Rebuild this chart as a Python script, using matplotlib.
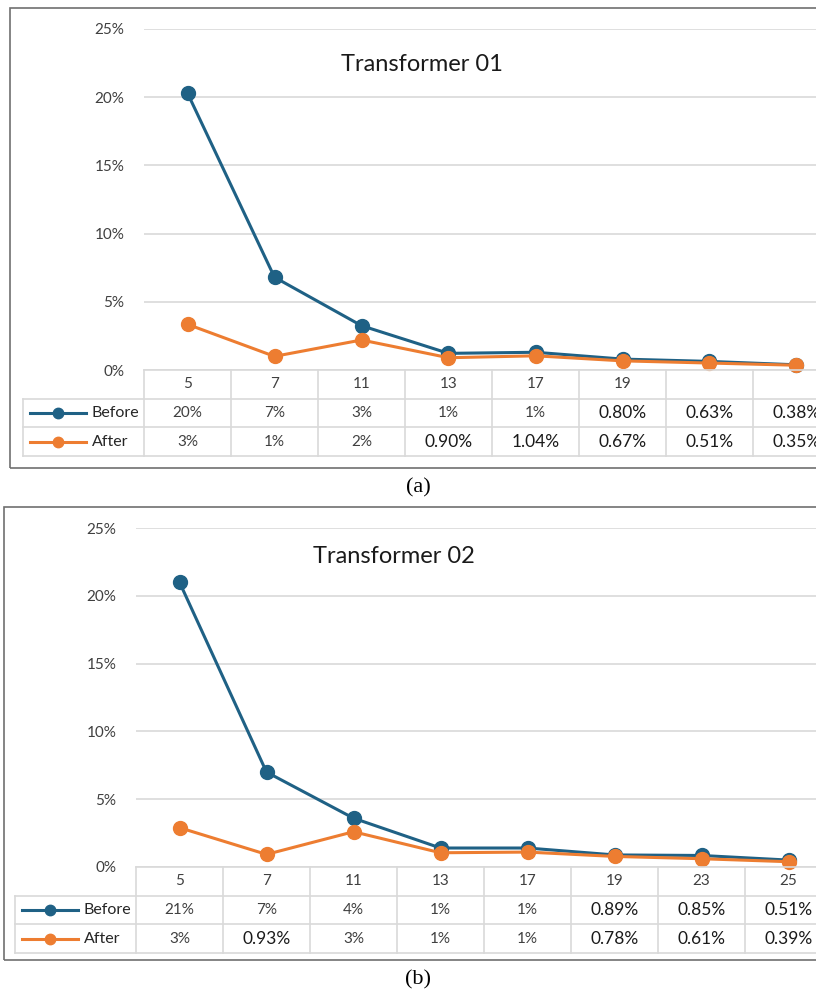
import matplotlib
matplotlib.use('Agg')
import matplotlib.pyplot as plt
from matplotlib.patches import Rectangle
from matplotlib.lines import Line2D

plt.rcParams['font.family'] = ['Lato', 'DejaVu Sans']

# harmonic orders shown in the header row (panel a leaves the last two empty)
orders_a = ['5', '7', '11', '13', '17', '19', '', '']
orders_b = ['5', '7', '11', '13', '17', '19', '23', '25']

# values in percent
before_a = [20.3, 6.8, 3.25, 1.22, 1.3, 0.80, 0.63, 0.38]
after_a = [3.35, 1.0, 2.2, 0.90, 1.04, 0.67, 0.51, 0.35]
before_b = [21.0, 7.0, 3.6, 1.4, 1.4, 0.89, 0.85, 0.51]
after_b = [2.9, 0.93, 2.6, 1.05, 1.1, 0.78, 0.61, 0.39]

# table text as printed
before_a_lbl = ['20%', '7%', '3%', '1%', '1%', '0.80%', '0.63%', '0.38%']
after_a_lbl = ['3%', '1%', '2%', '0.90%', '1.04%', '0.67%', '0.51%', '0.35%']
before_b_lbl = ['21%', '7%', '4%', '1%', '1%', '0.89%', '0.85%', '0.51%']
after_b_lbl = ['3%', '0.93%', '3%', '1%', '1%', '0.78%', '0.61%', '0.39%']

yticks = [0, 5, 10, 15, 20, 25]

BLUE = '#1f6185'
ORANGE = '#ed7d31'
GRID = '#d9d9d9'
W, H = 816, 991

fig = plt.figure(figsize=(W / 100, H / 100), dpi=100)


def px(x0, y0, x1, y1):
    # pixel box (top-left origin) -> figure fraction rect
    return [x0 / W, 1 - y1 / H, (x1 - x0) / W, (y1 - y0) / H]


def panel(title, title_xy, orders, before, after, blbl, albl, box, plot_x0, leg_x0, y25, y0, row_h, col_w):
    bx0, by0, bx1, by1 = box
    fig.patches.append(Rectangle((bx0 / W, 1 - by1 / H), (bx1 - bx0) / W, (by1 - by0) / H,
                                 transform=fig.transFigure, fill=False,
                                 edgecolor='#707070', lw=1.2))
    n = len(orders)
    x_right = plot_x0 + n * col_w
    ax = fig.add_axes(px(plot_x0, y25, x_right, y0))
    xs = list(range(n))
    ax.set_xlim(-0.5, n - 0.5)
    ax.set_ylim(0, 25)
    for v in yticks:
        ax.axhline(v, color=GRID, lw=1.2, zorder=0)
    ax.plot(xs, before, color=BLUE, lw=2.2, marker='o', ms=10, zorder=3, clip_on=False)
    ax.plot(xs, after, color=ORANGE, lw=2.2, marker='o', ms=10, zorder=3, clip_on=False)
    ax.set_yticks(yticks)
    ax.set_yticklabels([f'{v}%' for v in yticks], color='#404040', fontsize=11)
    ax.tick_params(axis='y', length=0, pad=14)
    ax.set_xticks([])
    for s in ax.spines.values():
        s.set_visible(False)
    ax.patch.set_alpha(0)
    ax.text(title_xy[0], title_xy[1], title, transform=ax.transAxes, ha='center', va='center',
            fontsize=17, color='#1a1a1a')

    # data table under the plot
    left_units = (plot_x0 - leg_x0) / col_w
    tx = fig.add_axes(px(leg_x0, y0, x_right, y0 + 3 * row_h))
    tx.set_xlim(-0.5 - left_units, n - 0.5)
    tx.set_ylim(3, 0)
    tx.axis('off')
    lk = dict(color=GRID, lw=1.2, clip_on=False)
    tx.plot([-0.5, n - 0.5], [0, 0], **lk)
    for r in (1, 2, 3):
        tx.plot([-0.5 - left_units, n - 0.5], [r, r], **lk)
    tx.plot([-0.5 - left_units] * 2, [1, 3], **lk)
    for c in range(n + 1):
        tx.plot([c - 0.5] * 2, [0, 3], **lk)
    for i in range(n):
        tx.text(i, 0.5, orders[i], ha='center', va='center', fontsize=11, color='#404040')
        for r, lbl in ((1.5, blbl[i]), (2.5, albl[i])):
            if '.' in lbl:
                tx.text(i, r, lbl, ha='center', va='center', fontsize=12.5, color='#1a1a1a')
            else:
                tx.text(i, r, lbl, ha='center', va='center', fontsize=11, color='#404040')
    lx = -0.5 - left_units
    for r, name, col in ((1.5, 'Before', BLUE), (2.5, 'After', ORANGE)):
        tx.add_line(Line2D([lx + 0.08, lx + 0.72], [r, r], color=col, lw=2.2))
        tx.plot([lx + 0.40], [r], 'o', color=col, ms=7.5)
        tx.text(lx + 0.79, r, name, ha='left', va='center', fontsize=11.5, color='#262626')


panel('Transformer 01', (0.40, 0.895), orders_a, before_a, after_a, before_a_lbl, after_a_lbl,
      box=(10, 8, 830, 468), plot_x0=144, leg_x0=23, y25=29, y0=370, row_h=28.7, col_w=87)
panel('Transformer 02', (0.37, 0.915), orders_b, before_b, after_b, before_b_lbl, after_b_lbl,
      box=(4, 507, 830, 960), plot_x0=136, leg_x0=15, y25=528, y0=867, row_h=28.7, col_w=87)

fig.text(418 / W, 1 - 488 / H, '(a)', ha='center', va='center', fontsize=16,
         family='Liberation Serif')
fig.text(418 / W, 1 - 980 / H, '(b)', ha='center', va='center', fontsize=16,
         family='Liberation Serif')

fig.savefig('out.png', dpi=100)
